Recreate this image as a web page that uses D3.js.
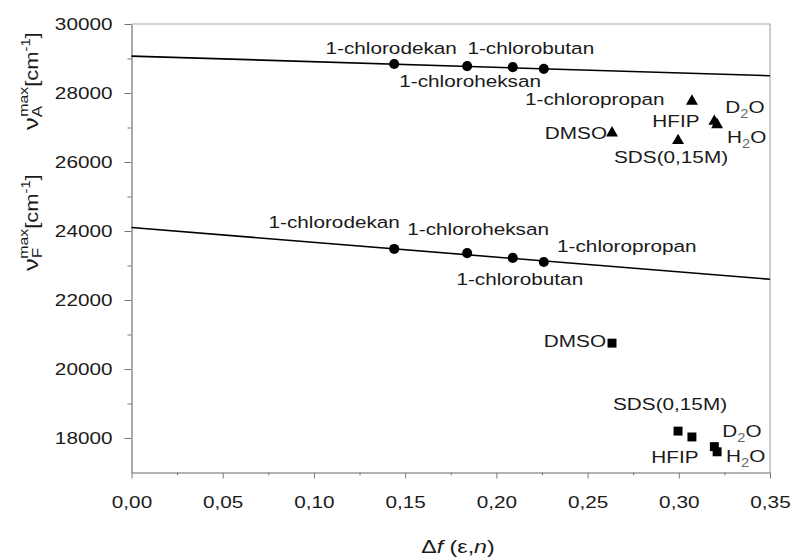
<!DOCTYPE html>
<html>
<head>
<meta charset="utf-8">
<script src="https://cdn.jsdelivr.net/npm/d3@7"></script>
<style>
  body { margin: 0; background: #fff; }
  svg { display: block; font-family: "Liberation Sans", Arial, sans-serif; }
</style>
</head>
<body>
<svg id="chart"></svg>
<script>
"use strict";

// =================== DATA ===================
// Δf(ε,n) of each solvent
const alkylDf = [0.144, 0.184, 0.209, 0.226];            // dekan, heksan, butan, propan
const alkylNames = ["1-chlorodekan", "1-chloroheksan", "1-chlorobutan", "1-chloropropan"];
const alkylAbs = [28840, 28780, 28750, 28700];           // νA max
const alkylFluo = [23480, 23360, 23220, 23100];          // νF max

const polarNames = ["DMSO", "SDS", "HFIP", "D2O", "H2O"];
const polarDf = [0.2634, 0.2996, 0.3072, 0.3195, 0.321];
const polarAbs = [26840, 26620, 27760, 27180, 27080];    // triangles
const polarFluo = [20750, 18200, 18030, 17750, 17600];   // squares

// fitted lines (end points)
const fitDf = [0, 0.35];
const fitAbs = [29070, 28500];
const fitFluo = [24100, 22600];

const xMajor = [0, 0.05, 0.10, 0.15, 0.20, 0.25, 0.30, 0.35];
const xMinor = [0.025, 0.075, 0.125, 0.175, 0.225, 0.275, 0.325];
const yMajor = [18000, 20000, 22000, 24000, 26000, 28000, 30000];
const yMinor = [19000, 21000, 23000, 25000, 27000, 29000];

// =================== SETUP ===================
const W = 791, H = 558;
const SX = 1.22;          // the original lettering is wide
const FS = 17;

const svg = d3.select("#chart").attr("width", W).attr("height", H);

const x = d3.scaleLinear().domain([0, 0.35]).range([131.5, 770]);
const y = d3.scaleLinear().domain([17000, 30000]).range([472.5, 24]);

const fmt = d3.format(".2f");

// stretched text helper
function wideText(g, px, py, anchor) {
  return g.append("text")
    .attr("transform", `translate(${px},${py}) scale(${SX},1)`)
    .attr("text-anchor", anchor)
    .style("font-size", FS + "px")
    .attr("fill", "#1a1a1a");
}

// =================== FRAME ===================
svg.append("path")
  .attr("d", `M${x(0)},${y(30000)}H${x(0.35)}V${y(17000)}`)
  .attr("fill", "none").attr("stroke", "#aaa").attr("stroke-width", 1.2);

// =================== AXES ===================
const yAx = svg.append("g").attr("transform", `translate(${x(0)},0)`)
  .call(d3.axisLeft(y).tickValues(yMajor).tickSize(7).tickSizeOuter(0).tickPadding(12)
    .tickFormat(d3.format("d")));
svg.append("g").attr("transform", `translate(${x(0)},0)`)
  .call(d3.axisLeft(y).tickValues(yMinor).tickSize(4).tickSizeOuter(0).tickFormat(""));

const xAx = svg.append("g").attr("transform", `translate(0,${y(17000)})`)
  .call(d3.axisBottom(x).tickValues(xMajor).tickSize(6).tickSizeOuter(0).tickPadding(17)
    .tickFormat(d => fmt(d).replace(".", ",")));
svg.append("g").attr("transform", `translate(0,${y(17000)})`)
  .call(d3.axisBottom(x).tickValues(xMinor).tickSize(3).tickSizeOuter(0).tickFormat(""));

svg.selectAll(".domain").attr("stroke", "#999").attr("stroke-width", 1.2);
svg.selectAll(".tick line").attr("stroke", "#777");
svg.selectAll(".tick text")
  .style("font-size", FS + "px")
  .style("font-family", "'Liberation Sans', Arial, sans-serif")
  .attr("fill", "#1a1a1a");
yAx.selectAll(".tick text").attr("x", -19 / SX).attr("transform", `scale(${SX},1)`);
xAx.selectAll(".tick text").attr("transform", `scale(${SX},1)`);

// =================== FIT LINES ===================
const line = d3.line().x(d => x(d[0])).y(d => y(d[1]));
[fitAbs, fitFluo].forEach(fit => {
  svg.append("path")
    .datum(fitDf.map((d, i) => [d, fit[i]]))
    .attr("d", line)
    .attr("fill", "none").attr("stroke", "#000").attr("stroke-width", 1.6);
});

// =================== MARKERS ===================
const absPts = alkylDf.map((d, i) => ({ df: d, v: alkylAbs[i], name: alkylNames[i] }));
const fluoPts = alkylDf.map((d, i) => ({ df: d, v: alkylFluo[i], name: alkylNames[i] }));
const triPts = polarDf.map((d, i) => ({ df: d, v: polarAbs[i], name: polarNames[i] }));
const sqPts = polarDf.map((d, i) => ({ df: d, v: polarFluo[i], name: polarNames[i] }));

function drawSymbols(pts, type, size) {
  svg.append("g").selectAll("path")
    .data(pts).join("path")
    .attr("transform", d => `translate(${x(d.df)},${y(d.v)})`)
    .attr("d", d3.symbol().type(type).size(size))
    .attr("fill", "#000");
}
drawSymbols(absPts, d3.symbolCircle, 80);
drawSymbols(fluoPts, d3.symbolCircle, 80);
drawSymbols(triPts, d3.symbolTriangle, 62);
drawSymbols(sqPts, d3.symbolSquare, 80);

// =================== POINT LABELS ===================
// [points, index, dx, dy, anchor, text]
const labels = [
  [absPts, 0, -3, -10, "middle", "1-chlorodekan"],
  [absPts, 2, 18, -13, "middle", "1-chlorobutan"],
  [absPts, 1, 3, 21, "middle", "1-chloroheksan"],
  [absPts, 3, 51, 36, "middle", "1-chloropropan"],
  [triPts, 0, -5, 6, "end", "DMSO"],
  [triPts, 1, -7, 22, "middle", "SDS(0,15M)"],
  [triPts, 2, -16, 26, "middle", "HFIP"],
  [triPts, 3, 11, -8, "start", "D|2|O"],
  [triPts, 4, 10, 18, "start", "H|2|O"],
  [fluoPts, 0, -60, -21, "middle", "1-chlorodekan"],
  [fluoPts, 1, 11, -18, "middle", "1-chloroheksan"],
  [fluoPts, 3, 83, -10, "middle", "1-chloropropan"],
  [fluoPts, 2, 7, 27, "middle", "1-chlorobutan"],
  [sqPts, 0, -6, 4, "end", "DMSO"],
  [sqPts, 1, -8, -21, "middle", "SDS(0,15M)"],
  [sqPts, 2, -17, 26, "middle", "HFIP"],
  [sqPts, 3, 8, -10, "start", "D|2|O"],
  [sqPts, 4, 9, 10, "start", "H|2|O"]
];

labels.forEach(([pts, i, dx, dy, anchor, txt]) => {
  const p = pts[i];
  const t = wideText(svg, x(p.df) + dx, y(p.v) + dy, anchor);
  const parts = txt.split("|");
  if (parts.length === 1) {
    t.text(txt);
  } else {
    t.append("tspan").text(parts[0]);
    t.append("tspan").attr("dy", 5).style("font-size", "12px").attr("fill", "#666").text(parts[1]);
    t.append("tspan").attr("dy", -5).text(parts[2]);
  }
});

// =================== AXIS TITLES ===================
function yTitle(px, py, sub) {
  const t = svg.append("text")
    .attr("transform", `translate(${px},${py}) rotate(-90) scale(${SX},1)`)
    .style("font-size", "18px")
    .attr("fill", "#1a1a1a");
  t.append("tspan").style("font-size", "21px").text("ν");
  t.append("tspan").attr("dy", 4).style("font-size", "14px").text(sub);
  t.append("tspan").attr("dx", -9).attr("dy", -14).style("font-size", "13px").text("max");
  t.append("tspan").attr("dy", 10).text("[cm");
  t.append("tspan").attr("dy", -8).style("font-size", "12px").text("-1");
  t.append("tspan").attr("dy", 8).text("]");
}
yTitle(38, 130, "A");
yTitle(38, 271, "F");

const xt = wideText(svg, 458, 553, "middle").style("font-size", "19px");
xt.append("tspan").text("Δ");
xt.append("tspan").style("font-style", "italic").text("f");
xt.append("tspan").text(" (ε,");
xt.append("tspan").style("font-style", "italic").text("n");
xt.append("tspan").text(")");
</script>
</body>
</html>
